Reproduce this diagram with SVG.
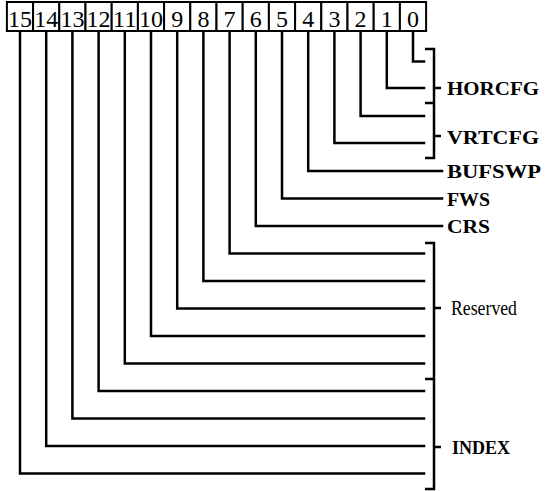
<svg xmlns="http://www.w3.org/2000/svg" width="552" height="491" viewBox="0 0 552 491">
<style>
.box{fill:#fff;stroke:#000;stroke-width:2}
.num{font-family:"Liberation Serif","Times New Roman",serif;font-size:24px;text-anchor:middle;fill:#000}
.ln{fill:none;stroke:#000;stroke-width:2.5;stroke-linejoin:miter;stroke-linecap:square}
.br{fill:none;stroke:#000;stroke-width:2.5}
.lbl{font-family:"Liberation Serif","Times New Roman",serif;font-size:19px;font-weight:bold;fill:#000}
.lbn{font-family:"Liberation Serif","Times New Roman",serif;font-size:20px;fill:#000}
</style>
<rect width="552" height="491" fill="#fff"/>
<g id="register">
<g id="bit15"><rect class="box" x="6.9" y="2" width="26.2" height="29"/><text class="num" x="20" y="27" textLength="24" lengthAdjust="spacingAndGlyphs">15</text></g>
<g id="bit14"><rect class="box" x="33.1" y="2" width="26.2" height="29"/><text class="num" x="46.2" y="27" textLength="24" lengthAdjust="spacingAndGlyphs">14</text></g>
<g id="bit13"><rect class="box" x="59.3" y="2" width="26.2" height="29"/><text class="num" x="72.4" y="27" textLength="24" lengthAdjust="spacingAndGlyphs">13</text></g>
<g id="bit12"><rect class="box" x="85.5" y="2" width="26.2" height="29"/><text class="num" x="98.6" y="27" textLength="24" lengthAdjust="spacingAndGlyphs">12</text></g>
<g id="bit11"><rect class="box" x="111.7" y="2" width="26.2" height="29"/><text class="num" x="124.8" y="27" textLength="24" lengthAdjust="spacingAndGlyphs">11</text></g>
<g id="bit10"><rect class="box" x="137.9" y="2" width="26.2" height="29"/><text class="num" x="151" y="27" textLength="24" lengthAdjust="spacingAndGlyphs">10</text></g>
<g id="bit9"><rect class="box" x="164.1" y="2" width="26.2" height="29"/><text class="num" x="177.2" y="27">9</text></g>
<g id="bit8"><rect class="box" x="190.3" y="2" width="26.2" height="29"/><text class="num" x="203.4" y="27">8</text></g>
<g id="bit7"><rect class="box" x="216.5" y="2" width="26.2" height="29"/><text class="num" x="229.6" y="27">7</text></g>
<g id="bit6"><rect class="box" x="242.7" y="2" width="26.2" height="29"/><text class="num" x="255.8" y="27">6</text></g>
<g id="bit5"><rect class="box" x="268.9" y="2" width="26.2" height="29"/><text class="num" x="282" y="27">5</text></g>
<g id="bit4"><rect class="box" x="295.1" y="2" width="26.2" height="29"/><text class="num" x="308.2" y="27">4</text></g>
<g id="bit3"><rect class="box" x="321.3" y="2" width="26.2" height="29"/><text class="num" x="334.4" y="27">3</text></g>
<g id="bit2"><rect class="box" x="347.5" y="2" width="26.2" height="29"/><text class="num" x="360.6" y="27">2</text></g>
<g id="bit1"><rect class="box" x="373.7" y="2" width="26.2" height="29"/><text class="num" x="386.8" y="27">1</text></g>
<g id="bit0"><rect class="box" x="399.9" y="2" width="26.2" height="29"/><text class="num" x="413" y="27">0</text></g>
</g>
<g id="connectors">
<path class="ln" d="M413,32 V61.5 H424"/>
<path class="ln" d="M386.8,32 V88 H424"/>
<path class="ln" d="M360.6,32 V116 H424"/>
<path class="ln" d="M334.4,32 V143 H424"/>
<path class="ln" d="M308.2,32 V171 H442"/>
<path class="ln" d="M282,32 V198.5 H442"/>
<path class="ln" d="M255.8,32 V226 H442"/>
<path class="ln" d="M229.6,32 V253.5 H424"/>
<path class="ln" d="M203.4,32 V281 H424"/>
<path class="ln" d="M177.2,32 V308.5 H424"/>
<path class="ln" d="M151,32 V336 H424"/>
<path class="ln" d="M124.8,32 V363.5 H424"/>
<path class="ln" d="M98.6,32 V391 H424"/>
<path class="ln" d="M72.4,32 V418.5 H424"/>
<path class="ln" d="M46.2,32 V446 H424"/>
<path class="ln" d="M20,32 V473.5 H424"/>
</g>
<g id="brackets">
<path class="br" d="M425,49 H434 V158 H425 M425,103 H434 M434,88 H441 M434,136 H441"/>
<path class="br" d="M425,243 H434 V489 H425 M425,379 H434 M434,308 H441 M434,447 H441"/>
</g>
<g id="labels">
<text id="HORCFG" class="lbl" x="447" y="95" textLength="92" lengthAdjust="spacingAndGlyphs">HORCFG</text>
<text id="VRTCFG" class="lbl" x="447" y="144" textLength="92" lengthAdjust="spacingAndGlyphs">VRTCFG</text>
<text id="BUFSWP" class="lbl" x="447" y="178" textLength="94" lengthAdjust="spacingAndGlyphs">BUFSWP</text>
<text id="FWS" class="lbl" x="447" y="206" textLength="43" lengthAdjust="spacingAndGlyphs">FWS</text>
<text id="CRS" class="lbl" x="447" y="233" textLength="43" lengthAdjust="spacingAndGlyphs">CRS</text>
<text id="Reserved" class="lbn" x="451" y="315" textLength="66" lengthAdjust="spacingAndGlyphs">Reserved</text>
<text id="INDEX" class="lbl" x="452" y="454" textLength="58" lengthAdjust="spacingAndGlyphs">INDEX</text>
</g>
</svg>
